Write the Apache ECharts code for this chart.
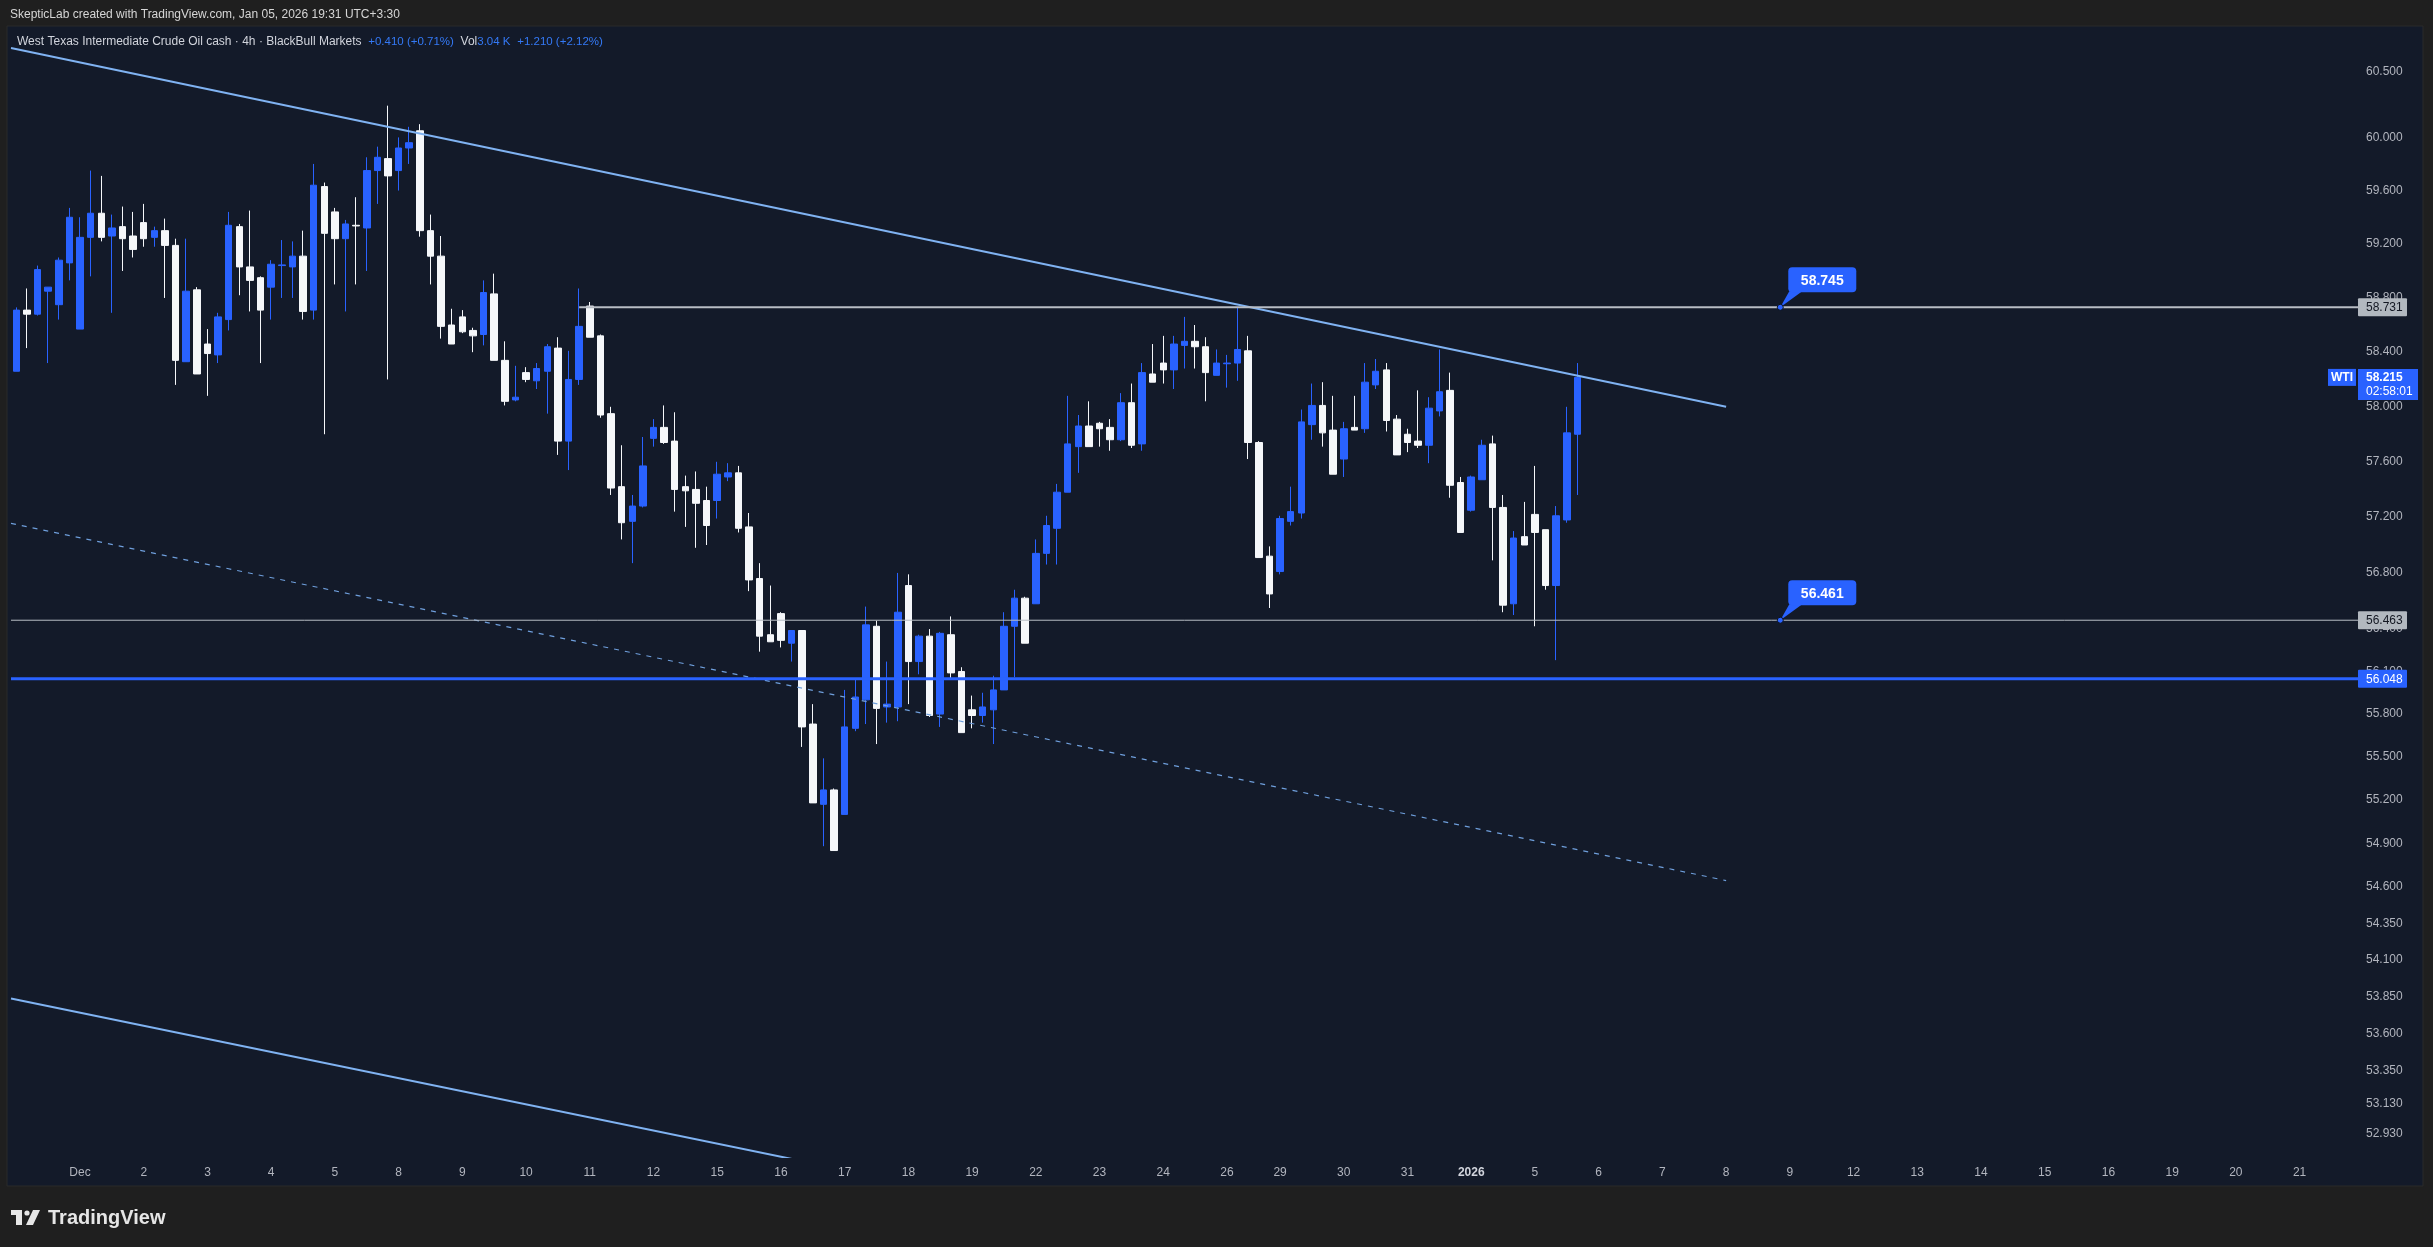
<!DOCTYPE html>
<html><head><meta charset="utf-8">
<script src="https://cdn.jsdelivr.net/npm/echarts@6/dist/echarts.min.js"></script>
<style>html,body{margin:0;padding:0;background:#1f1f1f;}#c{width:2433px;height:1247px;}</style>
</head><body><div id="c"></div>
<script>
// ---- DATA (4h bars, WTI cash) ----
const opens = [58.26,58.71,58.68,58.85,58.75,59.06,58.57,59.25,59.43,59.26,
59.33,59.26,59.36,59.25,59.30,59.19,58.33,58.86,58.46,58.38,
58.64,59.33,59.03,58.95,58.88,59.04,59.03,59.11,58.71,59.63,
59.44,59.24,59.34,59.32,59.75,59.84,59.75,59.92,60.05,59.30,
59.11,58.60,58.66,58.56,58.53,58.83,58.34,58.05,58.25,58.19,
58.26,58.43,57.75,58.20,58.74,58.52,57.95,57.42,57.17,57.28,
57.77,57.85,57.75,57.42,57.40,57.32,57.32,57.49,57.52,57.13,
56.76,56.36,56.51,56.30,56.39,55.73,55.17,55.27,55.10,55.70,
55.90,56.42,55.85,55.85,56.71,56.17,56.35,55.80,56.36,56.10,
55.83,55.79,55.83,55.97,56.42,56.62,56.58,56.94,57.12,57.38,
57.71,57.86,57.88,57.85,57.76,58.03,57.73,58.24,58.32,58.27,
58.45,58.48,58.44,58.23,58.315,58.32,58.41,57.74,56.92,56.81,
57.17,57.23,57.87,58.01,57.83,57.62,57.85,57.84,58.16,58.27,
57.91,57.80,57.75,57.72,57.97,58.12,57.45,57.25,57.47,57.73,
57.27,56.58,57.06,57.22,57.11,56.71,57.18,57.80];
const closes = [58.71,58.68,59.01,58.88,59.08,59.40,59.25,59.43,59.25,59.32,
59.24,59.16,59.24,59.30,59.19,58.34,58.85,58.24,58.39,58.66,
59.34,59.03,58.93,58.71,59.05,59.045,59.11,58.70,59.64,59.28,
59.24,59.35,59.335,59.75,59.85,59.71,59.92,59.96,59.30,59.11,
58.59,58.46,58.55,58.52,58.84,58.34,58.04,58.07,58.20,58.28,
58.44,57.75,58.20,58.59,58.51,57.94,57.41,57.16,57.28,57.57,
57.85,57.74,57.40,57.39,57.30,57.14,57.51,57.52,57.12,56.75,
56.35,56.31,56.32,56.39,55.71,55.18,55.27,54.85,55.71,55.92,
56.43,55.84,55.87,56.52,56.17,56.35,55.79,56.37,56.09,55.67,
55.79,55.85,55.97,56.42,56.62,56.30,56.94,57.14,57.38,57.73,
57.86,57.71,57.84,57.76,58.03,57.72,58.25,58.18,58.27,58.46,
58.48,58.44,58.25,58.32,58.32,58.42,57.74,56.91,56.65,57.19,
57.24,57.89,58.01,57.81,57.51,57.84,57.83,58.18,58.26,57.90,
57.65,57.74,57.72,57.99,58.11,57.43,57.09,57.49,57.72,57.27,
56.57,57.05,57.00,57.09,56.71,57.21,57.81,58.215];
const lows = [58.26,58.43,58.67,58.32,58.64,58.93,58.57,58.96,59.22,58.69,
59.00,59.10,59.18,59.18,58.80,58.16,58.33,58.24,58.08,58.32,
58.56,58.82,58.70,58.32,58.64,58.80,58.80,58.64,58.64,57.80,
58.90,58.70,58.90,59.00,59.50,58.20,59.60,59.80,59.255,58.90,
58.50,58.46,58.54,58.40,58.45,58.34,58.01,58.04,58.18,58.13,
57.95,57.65,57.54,58.16,58.51,57.92,57.36,57.04,56.87,57.27,
57.71,57.73,57.24,57.13,56.98,57.00,57.19,57.46,57.09,56.67,
56.24,56.31,56.27,56.17,55.57,55.18,54.88,54.85,55.10,55.68,
55.73,55.59,55.74,55.75,55.87,56.08,55.78,55.71,56.05,55.67,
55.70,55.74,55.59,55.97,56.06,56.30,56.58,56.86,56.86,57.38,
57.52,57.71,57.71,57.68,57.75,57.70,57.68,58.18,58.17,58.13,
58.28,58.28,58.04,58.23,58.14,58.19,57.62,56.91,56.55,56.79,
57.14,57.19,57.76,57.71,57.51,57.49,57.83,57.81,58.13,57.82,
57.65,57.67,57.70,57.59,57.93,57.34,57.09,57.24,57.47,56.89,
56.52,56.50,57.00,56.42,56.68,56.18,57.16,57.36];
const highs = [58.73,58.87,59.04,58.88,59.10,59.47,59.40,59.75,59.71,59.42,
59.48,59.44,59.50,59.33,59.39,59.24,59.24,58.88,58.57,58.69,
59.44,59.35,59.45,58.96,59.08,59.23,59.22,59.30,59.80,59.66,
59.47,59.38,59.55,59.85,59.93,60.24,60.00,60.08,60.10,59.42,
59.26,58.72,58.71,58.58,58.93,58.98,58.48,58.30,58.29,58.32,
58.46,58.51,58.41,58.87,58.77,58.53,58.00,57.72,57.36,57.78,
57.91,58.01,57.96,57.50,57.53,57.42,57.60,57.59,57.57,57.23,
56.87,56.71,56.52,56.39,56.39,55.87,55.49,55.28,55.97,56.04,
56.56,56.46,56.17,56.80,56.79,56.36,56.40,56.38,56.49,56.13,
55.93,55.95,56.07,56.52,56.68,56.63,57.04,57.21,57.44,58.08,
57.94,58.04,57.89,57.91,58.10,58.17,58.32,58.46,58.52,58.52,
58.66,58.60,58.51,58.42,58.38,58.73,58.52,57.75,56.99,57.21,
57.42,57.98,58.17,58.18,58.08,57.89,58.08,58.32,58.35,58.32,
57.94,57.84,58.12,58.07,58.42,58.25,57.49,57.50,57.76,57.79,
57.36,57.10,57.31,57.57,57.11,57.28,58.00,58.32];

// trading days on the time axis and 4h bars per day (future days included)
const dayLabels = ['', 'Dec','2','3','4','5','8','9','10','11','12','15','16','17','18','19',
  '22','23','24','26','29','30','31','2026','5','6','7','8','9','12','13','14','15','16','19','20','21'];
const barsPerDay = [6,6,6,6,6,6,6,6,6,6,6,6,6,6,6,6,6,6,6,5,6,6,6,6,6,6,6,6,6,6,6,6,6,6,6,6,6];

// price scale tick labels
const priceTicks = [60.5,60.0,59.6,59.2,58.8,58.4,58.0,57.6,57.2,56.8,56.4,56.1,55.8,55.5,55.2,54.9,54.6,54.35,54.1,53.85,53.6,53.35,53.13,52.93];

// drawings: [bar index, price]
const upperTrend = [[-0.5, 60.678], [161, 58.0]];
const midTrend = [[-0.5, 57.155], [161, 54.643]];
const lowerTrend = [[-0.5, 53.838], [80, 52.661]];
const resistanceLine = [[53, 58.731], [220.5, 58.731]];
const supportThin = [[-0.5, 56.463], [220.5, 56.463]];
const supportBlue = [[-0.5, 56.048], [220.5, 56.048]];
const calloutPoints = [[166.1, 58.731], [166.1, 56.463]];
const calloutTexts = ['58.745', '56.461'];
const levelTags = [58.731, 56.463, 56.048];
const lastPrice = 58.215;
const countdown = '02:58:01';
const symbolName = 'WTI';

// ---- build ----
const FONT = "'Liberation Sans', Arial, sans-serif";
const BLUE = '#2962ff';
const cats = [], catLabel = {};
dayLabels.forEach((lab, d) => {
  for (let k = 0; k < barsPerDay[d]; k++) {
    const name = 'b' + cats.length;
    if (k === 0 && lab) catLabel[name] = lab;
    cats.push(name);
  }
});
const N = cats.length;
const candles = opens.map((o, i) => [o, closes[i], lows[i], highs[i]]);

const chart = echarts.init(document.getElementById('c'), null, {renderer: 'canvas'});

function lineSeries(data, style, z) {
  return {type: 'line', xAxisIndex: 1, yAxisIndex: 0, data, symbol: 'none', silent: true,
    lineStyle: style, z: z || 5, clip: true, animation: false};
}

const option = {
  backgroundColor: '#1f1f1f',
  animation: false,
  grid: {left: 11, top: 26, width: 2347, height: 1131, containLabel: false, outerBoundsMode: 'none'},
  xAxis: [{
    type: 'category', data: cats, boundaryGap: true,
    axisLine: {show: false}, axisTick: {show: false}, splitLine: {show: false},
    axisLabel: {
      interval: (idx, val) => catLabel[val] !== undefined,
      formatter: (val) => {
        const l = catLabel[val] || '';
        return l === '2026' ? '{y|2026}' : l;
      },
      color: '#b2b5be', fontSize: 12, fontFamily: FONT, margin: 10, hideOverlap: false,
      rich: {y: {color: '#d1d4dc', fontWeight: 'bold', fontSize: 12, fontFamily: FONT}}
    }
  }, {
    type: 'value', min: -0.5, max: N - 0.5, show: false
  }],
  yAxis: [{
    type: 'log', logBase: 10, min: 52.775, max: 60.847, position: 'right',
    axisLine: {show: false}, axisTick: {show: false}, splitLine: {show: false},
    axisLabel: {
      customValues: priceTicks, formatter: (v) => Number(v).toFixed(3),
      color: '#b2b5be', fontSize: 12, fontFamily: FONT, margin: 8, align: 'left'
    }
  }],
  graphic: [
    {type: 'rect', z: -10, silent: true, shape: {x: 7, y: 26, width: 2416, height: 1160},
      style: {fill: '#131a29', stroke: '#2a2a2a', lineWidth: 1}},
    {type: 'text', x: 10, y: 15, silent: true,
      style: {text: 'SkepticLab created with TradingView.com, Jan 05, 2026 19:31 UTC+3:30',
        fill: '#d6d6d6', font: '12px ' + FONT, verticalAlign: 'middle'}},
    {type: 'text', x: 17, y: 42, silent: true,
      style: {text: '{a|West Texas Intermediate Crude Oil cash · 4h · BlackBull Markets}  {b|+0.410 (+0.71%)}  {a|Vol}{b|3.04 K}  {b|+1.210 (+2.12%)}',
        verticalAlign: 'middle',
        rich: {a: {fill: '#d1d4dc', fontSize: 12, fontFamily: FONT}, b: {fill: '#3479f6', fontSize: 11.5, fontFamily: FONT}}}},
    // TradingView footer logo
    {type: 'group', silent: true, children: [
      {type: 'rect', shape: {x: 11, y: 1210, width: 11, height: 5}, style: {fill: '#e6e6e6'}},
      {type: 'rect', shape: {x: 16, y: 1210, width: 6, height: 15}, style: {fill: '#e6e6e6'}},
      {type: 'circle', shape: {cx: 27, cy: 1213, r: 2.6}, style: {fill: '#e6e6e6'}},
      {type: 'polygon', shape: {points: [[33, 1210], [40, 1210], [33, 1225], [26, 1225]]}, style: {fill: '#e6e6e6'}}
    ]},
    {type: 'text', x: 48, y: 1218, silent: true,
      style: {text: 'TradingView', fill: '#e6e6e6', font: 'bold 20px ' + FONT, verticalAlign: 'middle'}}
  ],
  series: [
    {
      type: 'candlestick', xAxisIndex: 0, yAxisIndex: 0, data: candles, barWidth: 7, z: 3,
      silent: true,
      itemStyle: {color: BLUE, color0: '#f5f7fa', borderColor: BLUE, borderColor0: '#f5f7fa', borderWidth: 1}
    },
    lineSeries(upperTrend, {color: '#80b3f2', width: 2}, 6),
    lineSeries(midTrend, {color: '#6f9fdc', width: 1.2, type: [5, 6]}, 6),
    lineSeries(lowerTrend, {color: '#80b3f2', width: 2}, 6),
    lineSeries(resistanceLine, {color: '#b8bdc4', width: 2}, 6),
    lineSeries(supportThin, {color: '#b8bdc4', width: 1}, 6),
    lineSeries(supportBlue, {color: BLUE, width: 3}, 7),
    {
      type: 'custom', xAxisIndex: 1, yAxisIndex: 0, data: calloutPoints, clip: false, z: 10, silent: true,
      renderItem: (params, api) => {
        const p = api.coord([api.value(0), api.value(1)]);
        const bx = p[0] + 8, by = p[1] - 40, bw = 68, bh = 25;
        return {type: 'group', children: [
          {type: 'polygon', shape: {points: [[p[0], p[1]], [p[0] + 9, by + bh - 1], [p[0] + 22, by + bh - 1]]}, style: {fill: BLUE}},
          {type: 'rect', shape: {x: bx, y: by, width: bw, height: bh, r: 4}, style: {fill: BLUE}},
          {type: 'text', style: {x: bx + bw / 2, y: by + bh / 2 + 1, text: calloutTexts[params.dataIndex],
            fill: '#ffffff', font: 'bold 14px ' + FONT, align: 'center', verticalAlign: 'middle'}},
          {type: 'circle', shape: {cx: p[0], cy: p[1], r: 3}, style: {fill: BLUE, stroke: '#0d1320', lineWidth: 1}}
        ]};
      }
    },
    {
      type: 'custom', xAxisIndex: 1, yAxisIndex: 0, data: levelTags.map(v => [N - 0.5, v]), clip: false, z: 12, silent: true,
      renderItem: (params, api) => {
        const p = api.coord([api.value(0), api.value(1)]);
        const isBlue = params.dataIndex === 2;
        return {type: 'group', children: [
          {type: 'rect', shape: {x: p[0], y: p[1] - 9, width: 49, height: 18, r: 1},
            style: {fill: isBlue ? BLUE : '#b2b8bf'}},
          {type: 'text', style: {x: p[0] + 8, y: p[1] + 0.5, text: levelTags[params.dataIndex].toFixed(3),
            fill: isBlue ? '#ffffff' : '#131722', font: '12px ' + FONT, align: 'left', verticalAlign: 'middle'}}
        ]};
      }
    },
    {
      type: 'custom', xAxisIndex: 1, yAxisIndex: 0, data: [[N - 0.5, lastPrice]], clip: false, z: 12, silent: true,
      renderItem: (params, api) => {
        const p = api.coord([api.value(0), api.value(1)]);
        return {type: 'group', children: [
          {type: 'rect', shape: {x: p[0] - 30, y: p[1] - 8.5, width: 28, height: 17}, style: {fill: BLUE}},
          {type: 'text', style: {x: p[0] - 16, y: p[1] + 0.5, text: symbolName, fill: '#ffffff',
            font: 'bold 12px ' + FONT, align: 'center', verticalAlign: 'middle'}},
          {type: 'rect', shape: {x: p[0], y: p[1] - 8.5, width: 60, height: 31}, style: {fill: BLUE}},
          {type: 'text', style: {x: p[0] + 8, y: p[1] + 0.5, text: lastPrice.toFixed(3), fill: '#ffffff',
            font: 'bold 12px ' + FONT, align: 'left', verticalAlign: 'middle'}},
          {type: 'text', style: {x: p[0] + 8, y: p[1] + 14.5, text: countdown, fill: '#ffffff',
            font: '12px ' + FONT, align: 'left', verticalAlign: 'middle'}}
        ]};
      }
    }
  ]
};
chart.setOption(option);
</script>
</body></html>
